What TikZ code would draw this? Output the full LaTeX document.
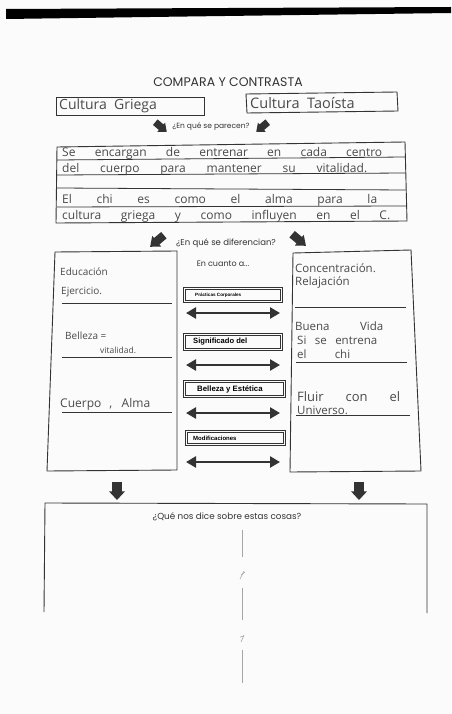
\documentclass[tikz,border=0pt]{standalone}
\usepackage{fontspec}
\setmainfont{Open Sans}
\newfontfamily\printf{Poppins}
\newfontfamily\hand{Open Sans}
\newfontfamily\arial{Liberation Sans}
\usetikzlibrary{arrows.meta}
\definecolor{ink}{HTML}{333333}
\definecolor{pencil}{HTML}{4A4A4A}
\definecolor{paper}{HTML}{FBFBFB}
\newcommand{\blockarr}[5]{%
  \fill[ink, shift={(#1,#2)}, rotate=#3]
    (-#4/2,-#5*0.3) -- (#4*0.02,-#5*0.3) -- (#4*0.02,-#5/2) -- (#4/2,0)
    -- (#4*0.02,#5/2) -- (#4*0.02,#5*0.3) -- (-#4/2,#5*0.3) -- cycle;}
\newcommand{\labbox}[5]{%
  \draw[ink, line width=0.7pt] (#1,#2) rectangle (#3,#4);
  \draw[ink, line width=0.5pt] (#1+2.5,#2-2) rectangle (#3-2,#4+2);}
\begin{document}
\begin{tikzpicture}[x=1pt,y=1pt,
  frame/.style={draw=ink, line width=0.9pt},
  rule/.style={draw=ink, line width=0.8pt},
  hw/.style={font=\hand\fontsize{12}{13}\selectfont, text=pencil, inner sep=0pt, anchor=base west},
  hwc/.style={font=\hand\fontsize{10}{11}\selectfont, text=pencil, inner sep=0pt, anchor=west},
  hwr/.style={font=\hand\fontsize{11.5}{12}\selectfont, text=pencil, inner sep=0pt, anchor=west},
  pr/.style={text=ink, inner sep=0pt},
  lab/.style={font=\arial\bfseries, text=black, inner sep=0pt, anchor=west},
  dblarrow/.style={draw=ink, line width=2.6pt, {Triangle[length=10pt,width=11pt]}-{Triangle[length=10pt,width=11pt]}},
  faint/.style={draw=gray!70, line width=0.6pt}]
\fill[paper] (0,0) rectangle (451,-714);
\useasboundingbox (0,0) rectangle (451,-714);
% dark band at top
\fill[black] (6,-9) -- (451,-7) -- (451,-13) -- (300,-15) -- (150,-17) -- (6,-19) -- cycle;

% title
\node[pr, font=\printf\fontsize{12.5}{13}\selectfont] (title) at (228,-82) {COMPARA Y CONTRASTA};

% culture boxes
\draw[frame] (56,-97) rectangle (204,-115);
\node[hwc, font=\hand\fontsize{14}{15}\selectfont] (griega) at (59,-106) {Cultura\ \ Griega};
\draw[frame] (246,-94) -- (397,-92) -- (398,-111) -- (247,-113) -- cycle;
\node[hwc, font=\hand\fontsize{14.5}{15}\selectfont] (taoista) at (250,-103) {Cultura\ \ Taoísta};

% parecen
\blockarr{161}{-127}{-40}{15}{12}
\node[pr, font=\printf\fontsize{7.5}{8}\selectfont] (parecen) at (211,-127) {¿En qué se parecen?};
\blockarr{262}{-127}{-140}{15}{12}

% similarities box
\draw[frame] (57,-147) -- (405,-142) -- (407,-221) -- (56,-223) -- cycle;
\draw[rule] (57,-160) -- (405,-157);
\draw[rule] (57,-175) -- (406,-173);
\draw[rule] (57,-188) -- (406,-190);
\draw[rule] (57,-207) -- (406,-206);
\node[hw] (s1) at (62,-157) {\makebox[320pt][s]{Se encargan de entrenar en cada centro}};
\node[hw] (s2) at (62,-172) {\makebox[305pt][s]{del cuerpo para mantener su vitalidad.}};
\node[hw] (s3) at (62,-203) {\makebox[315pt][s]{El chi es como el alma para la}};
\node[hw] (s4) at (62,-219) {\makebox[328pt][s]{cultura griega y como influyen en el C.}};

% diferencian
\blockarr{157}{-241}{-140}{18}{14}
\node[pr, font=\printf\fontsize{8.5}{9}\selectfont] (dif) at (226,-243) {¿En qué se diferencian?};
\blockarr{299}{-240}{-40}{18}{14}

% left box
\draw[frame] (55,-252) -- (177,-251) -- (177,-470) -- (47,-471) -- cycle;
\draw[rule] (62,-303) -- (172,-303);
\draw[rule] (62,-357) -- (172,-357);
\draw[rule] (62,-412) -- (172,-412);
\node[hwc] (l1) at (60,-272) {Educación};
\node[hwc] (l2) at (61,-292) {Ejercicio.};
\node[hwc] (l3) at (65,-336) {Belleza =};
\node[hwc, font=\hand\fontsize{8.5}{9}\selectfont] (l4) at (100,-350) {vitalidad.};
\node[hwc, font=\hand\fontsize{12}{13}\selectfont] (l5) at (60,-404) {\makebox[90pt][s]{Cuerpo , Alma}};

% right box
\draw[frame] (293,-253) -- (411,-250) -- (421,-471) -- (290,-472) -- cycle;
\draw[rule] (295,-307) -- (406,-307);
\draw[rule] (296,-362) -- (407,-362);
\draw[rule] (296,-415) -- (410,-415);
\node[hwr] (r1) at (295,-268) {Concentración.};
\node[hwr] (r2) at (295,-282) {Relajación};
\node[hwr] (r3) at (295,-326) {\makebox[88pt][s]{Buena Vida}};
\node[hwr] (r4) at (297,-340) {\makebox[80pt][s]{Si se entrena}};
\node[hwr] (r5) at (297,-354) {\makebox[53pt][s]{el chi}};
\node[hwc, font=\hand\fontsize{13}{14}\selectfont] (r6) at (297,-397) {\makebox[103pt][s]{Fluir con el}};
\node[hwr] (r7) at (297,-410) {Universo.};

% middle column
\node[pr, font=\printf\fontsize{8}{9}\selectfont] (encuanto) at (223,-264) {En cuanto a...};
\labbox{183}{-287}{282}{-302}{}
\node[lab, font=\arial\bfseries\fontsize{4.6}{5}\selectfont] (b1) at (195,-295) {Prácticas Corporales};
\labbox{183}{-333}{282}{-350}{}
\node[lab, font=\arial\bfseries\fontsize{7.6}{8}\selectfont] (b2) at (193,-342) {Significado del};
\labbox{183}{-380}{285}{-397}{}
\node[lab, font=\arial\bfseries\fontsize{7.8}{8}\selectfont] (b3) at (197,-389.5) {Belleza y Estética};
\labbox{185}{-430}{285}{-445}{}
\node[lab, font=\arial\bfseries\fontsize{6}{7}\selectfont] (b4) at (193,-438) {Modificaciones};

\coordinate (a1l) at (186,-313); \coordinate (a1r) at (280,-313);
\coordinate (a2l) at (186,-365); \coordinate (a2r) at (280,-365);
\coordinate (a3l) at (186,-413); \coordinate (a3r) at (280,-413);
\coordinate (a4l) at (186,-462); \coordinate (a4r) at (280,-462);
\draw[dblarrow] (a1l) -- (a1r);
\draw[dblarrow] (a2l) -- (a2r);
\draw[dblarrow] (a3l) -- (a3r);
\draw[dblarrow] (a4l) -- (a4r);

% down arrows
\blockarr{117}{-491}{-90}{18}{16}
\blockarr{359}{-491}{-90}{18}{16}

% bottom box
\draw[frame] (44,-612) -- (45,-503) -- (427,-504) -- (427,-613);
\node[pr, font=\printf\fontsize{8.8}{9}\selectfont] (que) at (227,-517) {¿Qué nos dice sobre estas cosas?};
\draw[faint] (242,-530) -- (242,-557);
\draw[faint] (240,-579) -- (244,-571);
\draw[faint] (241,-575) -- (245,-572);
\draw[faint] (242,-588) -- (242,-620);
\draw[faint] (241,-642) -- (244,-635);
\draw[faint] (240,-637) -- (244,-636);
\draw[faint] (242,-650) -- (242,-683);
\end{tikzpicture}
\end{document}
